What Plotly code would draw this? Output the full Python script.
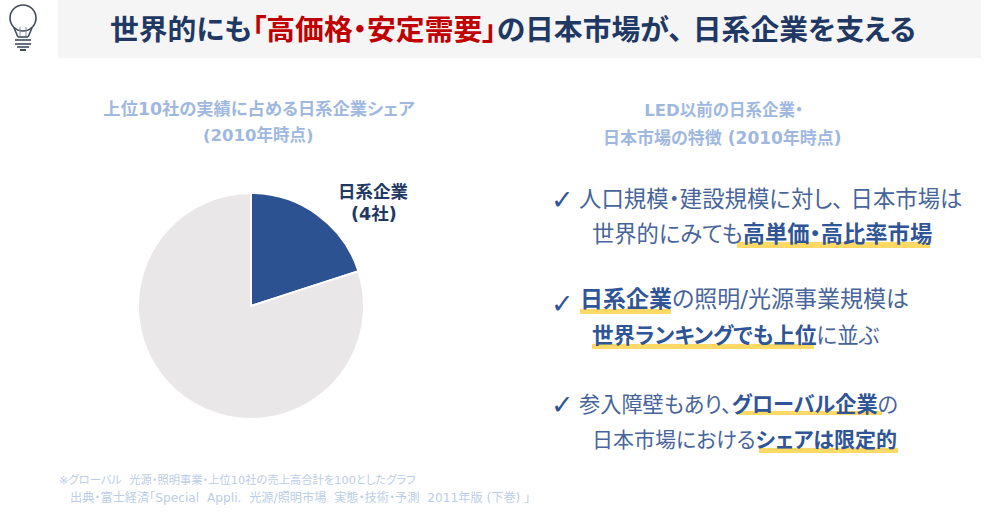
import plotly.graph_objects as go

# --- data ---
labels = ["日系企業(4社)", "その他"]
shares = [20, 80]
colors = ["#2c5291", "#e9e7e7"]

W, H = 1000, 512
JP = "DejaVu Sans, Noto Sans CJK JP"
NAVY = "#1f3864"
RED = "#c00000"
BLUE = "#2f5597"
BODY = "#47659a"
PALE = "#9fb8e0"
FOOT = "#bccde8"
YELLOW = "#ffd966"
ICON = "#404c5c"


def px(x):
    return x / W


def py(y):
    return 1 - y / H


def b(t):
    return f"<b>{t}</b>"


def c(t, col):
    return f'<span style="color:{col}">{t}</span>'


annotations = []


def text(x, y, t, size, color, anchor="left", font=JP):
    annotations.append(dict(
        x=px(x), y=py(y), xref="paper", yref="paper", text=t, showarrow=False,
        xanchor=anchor, yanchor="middle", align=anchor,
        font=dict(family=font, size=size, color=color),
    ))


shapes = []


def rect(x0, y0, x1, y1, col):
    shapes.append(dict(type="rect", xref="paper", yref="paper", layer="below",
                       x0=px(x0), x1=px(x1), y0=py(y0), y1=py(y1),
                       fillcolor=col, line=dict(width=0)))


def seg(x0, y0, x1, y1, col=ICON, w=1.6):
    shapes.append(dict(type="line", xref="paper", yref="paper",
                       x0=px(x0), x1=px(x1), y0=py(y0), y1=py(y1),
                       line=dict(color=col, width=w)))


# title band
rect(58, 0, 981, 58, "#f5f5f5")
text(108, 30, b(c("世界的にも", NAVY) + c("「高価格・安定需要」", RED) + c("の日本市場が、\u00a0日系企業を支える", NAVY)), 28.8, NAVY)

# sub headers
text(259, 109, b("上位10社の実績に占める日系企業シェア"), 17.3, PALE, "center")
text(258, 135, b("(2010年時点)"), 16.5, PALE, "center")
text(723, 110, b("LED以前の日系企業・"), 16.5, PALE, "center")
text(722, 138, b("日本市場の特徴\u00a0(2010年時点)"), 17, PALE, "center")

# pie label
text(373, 192, b("日系企業"), 17.5, NAVY, "center")
text(374, 214, b("(4社)"), 17.5, NAVY, "center")

# highlights under key phrases
for x0, y0, x1, y1 in [(737, 242, 930, 248), (580, 309, 671, 314), (592, 344, 814, 349),
                       (739, 411, 882, 415), (759, 448, 898, 453)]:
    rect(x0, y0, x1, y1, YELLOW)

# bullet lines
for y in (199, 303, 404):
    text(549, y, b("✓"), 27, BLUE, font="DejaVu Sans")
text(577, 199, "人口規模・建設規模に対し、\u00a0日本市場は", 22.4, BODY)
text(590, 234, "世界的にみても" + b(c("高単価・高比率市場", BLUE)), 22.3, BODY)
text(578, 299, b(c("日系企業", BLUE)) + "の照明/光源事業規模は", 23, BODY)
text(590, 335, b(c("世界ランキングでも上位", BLUE)) + "に並ぶ", 21.5, BODY)
text(577, 404, "参入障壁もあり、" + b(c("グローバル企業", BLUE)) + "の", 21.2, BODY)
text(590, 440, "日本市場における" + b(c("シェアは限定的", BLUE)), 21, BODY)

# footnotes
text(57, 480, "※グローバル\u00a0\u00a0光源・照明事業・上位10社の売上高合計を100としたグラフ", 11.3, FOOT)
text(68, 497, "出典・富士経済「Special\u00a0\u00a0Appli.\u00a0\u00a0光源/照明市場\u00a0\u00a0実態・技術・予測\u00a0\u00a02011年版\u00a0(下巻)\u00a0」", 12.2, FOOT)

# light-bulb icon
shapes.append(dict(
    type="circle", xref="paper", yref="paper",
    x0=px(10), x1=px(36), y0=py(31), y1=py(5),
    line=dict(color=ICON, width=1.6), fillcolor="rgba(0,0,0,0)"))
rect(15, 27, 31, 35, "#ffffff")
seg(14, 28, 18, 37)
seg(32, 28, 28, 37)
seg(20, 27, 20, 36, "#8c939c", 1)
seg(26, 27, 26, 36, "#8c939c", 1)
seg(18, 37, 28, 37)
seg(15, 40, 31, 40)
seg(15, 44, 31, 44)
seg(17, 47, 29, 47)
seg(20, 50, 26, 50, ICON, 2)

fig = go.Figure(go.Pie(
    labels=labels, values=shares, sort=False, direction="clockwise", rotation=0,
    textinfo="none", hoverinfo="label+percent", showlegend=False,
    marker=dict(colors=colors, line=dict(color="#ffffff", width=2)),
    domain=dict(x=[px(138), px(364)], y=[py(419), py(193)]),
))
fig.update_layout(
    width=W, height=H, margin=dict(l=0, r=0, t=0, b=0, pad=0),
    paper_bgcolor="#ffffff", plot_bgcolor="#ffffff",
    font=dict(family=JP), annotations=annotations, shapes=shapes, showlegend=False,
)
post = """
document.body.style.margin = '0';
var st = document.createElement('style');
st.textContent = 'svg text { font-feature-settings: "palt" 1; }';
document.head.appendChild(st);
var gd = document.getElementById('{plot_id}');
Plotly.react(gd, gd.data, gd.layout);
"""
fig.write_html("out.html", config=dict(displayModeBar=False), post_script=post)
